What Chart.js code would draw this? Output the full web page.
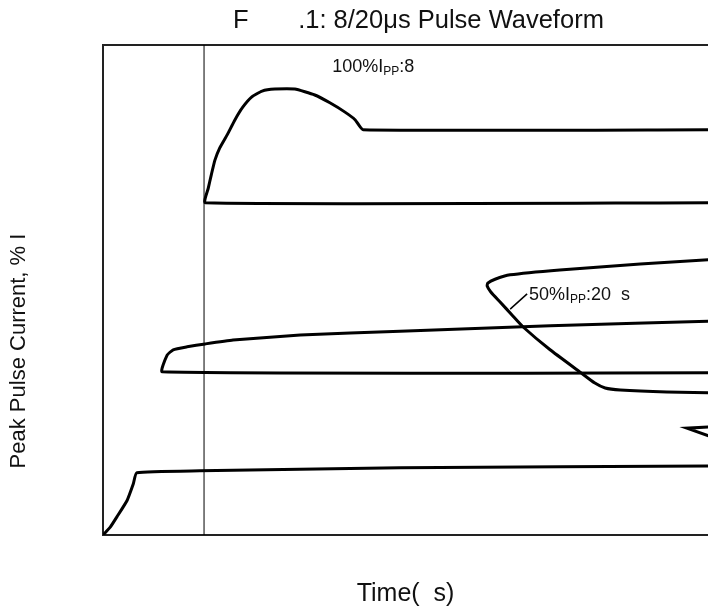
<!DOCTYPE html>
<html>
<head>
<meta charset="utf-8">
<script src="https://cdn.jsdelivr.net/npm/chart.js@4/dist/chart.umd.min.js"></script>
<style>
  html, body { margin: 0; padding: 0; background: #fff; }
  #wrap { width: 708px; height: 615px; }
</style>
</head>
<body>
<div id="wrap"><canvas id="pulseChart"></canvas></div>
<script>
// time axis 0..100 (%), current axis 0..100 (%)
const topPulseX = [102, 16.9, 17.4, 17.9, 18.5, 19.3, 20.5, 21.8, 23.1, 24.6, 26.3, 28.4, 31.7, 35.0, 37.5, 40.0, 41.7, 43.0, 102];
const topPulseY = [67.8, 67.8, 70.8, 73.5, 76.5, 79.0, 81.6, 84.7, 87.3, 89.4, 90.6, 91.0, 91.0, 89.8, 88.2, 86.3, 84.7, 82.7, 82.7];

const midLoopX = [102, 9.8, 10.6, 11.6, 13.9, 16.9, 21.5, 32.6, 49.1, 73.9, 102];
const midLoopY = [33.1, 33.3, 36.7, 37.8, 38.4, 39.0, 39.8, 40.8, 41.6, 42.7, 43.7];

const upperLoopX = [102, 88.8, 75.5, 67.3, 64.8, 63.6, 63.5, 64.1, 65.6, 67.6, 69.4, 73.9, 78.8, 81.3, 83.0, 85.5, 93.2, 102];
const upperLoopY = [56.3, 55.3, 54.1, 53.1, 52.2, 51.4, 50.8, 49.6, 47.6, 44.9, 42.5, 37.8, 33.3, 31.0, 30.0, 29.6, 29.2, 29.0];

const riseX = [0, 1.2, 2.3, 4.0, 5.0, 5.6, 16.0, 49.1, 102];
const riseY = [0, 1.6, 3.7, 7.1, 10.4, 12.7, 13.1, 13.7, 14.1];

const wedgeX = [102, 96.5, 102];
const wedgeY = [22.2, 21.8, 19.4];

const markerX = [16.7, 16.7];
const markerY = [0, 100];

const leaderX = [67.3, 70.1];
const leaderY = [46.1, 49.2];

const titleText = "F       .1: 8/20\u03bcs Pulse Waveform";
const xTitle = "Time(  s)";
const yTitle = "Peak Pulse Current, % I";
// label: [x, y, main text, subscript, tail]
const labels = [
  [37.9, 94.5, "100%I", "PP", ":8"],
  [70.4, 48.0, "50%I", "PP", ":20  s"]
];

const pts = (xs, ys) => xs.map((x, i) => ({ x: x, y: ys[i] }));

function curve(xs, ys, width, tension) {
  return {
    data: pts(xs, ys),
    borderColor: '#000',
    borderWidth: width,
    pointRadius: 0,
    tension: tension,
    fill: false
  };
}

const FONT = '"Liberation Sans", Arial, sans-serif';

const frameAndText = {
  id: 'frameAndText',
  beforeDatasetsDraw(chart) {
    const { ctx, chartArea: a } = chart;
    ctx.save();
    ctx.strokeStyle = '#222';
    ctx.lineWidth = 2;
    ctx.beginPath();
    ctx.moveTo(a.right + 5, a.top);
    ctx.lineTo(a.left, a.top);
    ctx.lineTo(a.left, a.bottom);
    ctx.lineTo(a.right + 5, a.bottom);
    ctx.stroke();
    ctx.restore();
  },
  afterDraw(chart) {
    const { ctx, chartArea: a, scales } = chart;
    ctx.save();
    ctx.fillStyle = '#111';
    ctx.textBaseline = 'alphabetic';

    ctx.font = '25.5px ' + FONT;
    ctx.textAlign = 'left';
    ctx.fillText(titleText, 233, 28);

    ctx.font = '25px ' + FONT;
    ctx.textAlign = 'center';
    ctx.fillText(xTitle, (a.left + a.right) / 2, 601);

    ctx.save();
    ctx.font = '22px ' + FONT;
    ctx.translate(25, 351);
    ctx.rotate(-Math.PI / 2);
    ctx.fillText(yTitle, 0, 0);
    ctx.restore();

    ctx.textAlign = 'left';
    labels.forEach(([x, y, main, sub, tail]) => {
      let px = scales.x.getPixelForValue(x);
      const py = scales.y.getPixelForValue(y);
      ctx.font = '18px ' + FONT;
      ctx.fillText(main, px, py);
      px += ctx.measureText(main).width;
      ctx.font = '12px ' + FONT;
      ctx.fillText(sub, px, py + 3);
      px += ctx.measureText(sub).width;
      ctx.font = '18px ' + FONT;
      ctx.fillText(tail, px, py);
    });
    ctx.restore();
  }
};

new Chart(document.getElementById('pulseChart'), {
  type: 'line',
  data: {
    datasets: [
      curve(markerX, markerY, 1, 0),
      curve(topPulseX, topPulseY, 3, 0.15),
      curve(midLoopX, midLoopY, 3, 0.15),
      curve(upperLoopX, upperLoopY, 3, 0.15),
      curve(riseX, riseY, 3, 0.15),
      curve(wedgeX, wedgeY, 3, 0),
      curve(leaderX, leaderY, 1.5, 0)
    ]
  },
  options: {
    responsive: true,
    maintainAspectRatio: false,
    animation: false,
    layout: { padding: { left: 103, top: 45, right: 0, bottom: 80 } },
    plugins: { legend: { display: false }, tooltip: { enabled: false }, title: { display: false } },
    scales: {
      x: { type: 'linear', min: 0, max: 100, display: false },
      y: { type: 'linear', min: 0, max: 100, display: false }
    }
  },
  plugins: [frameAndText]
});
</script>
</body>
</html>
